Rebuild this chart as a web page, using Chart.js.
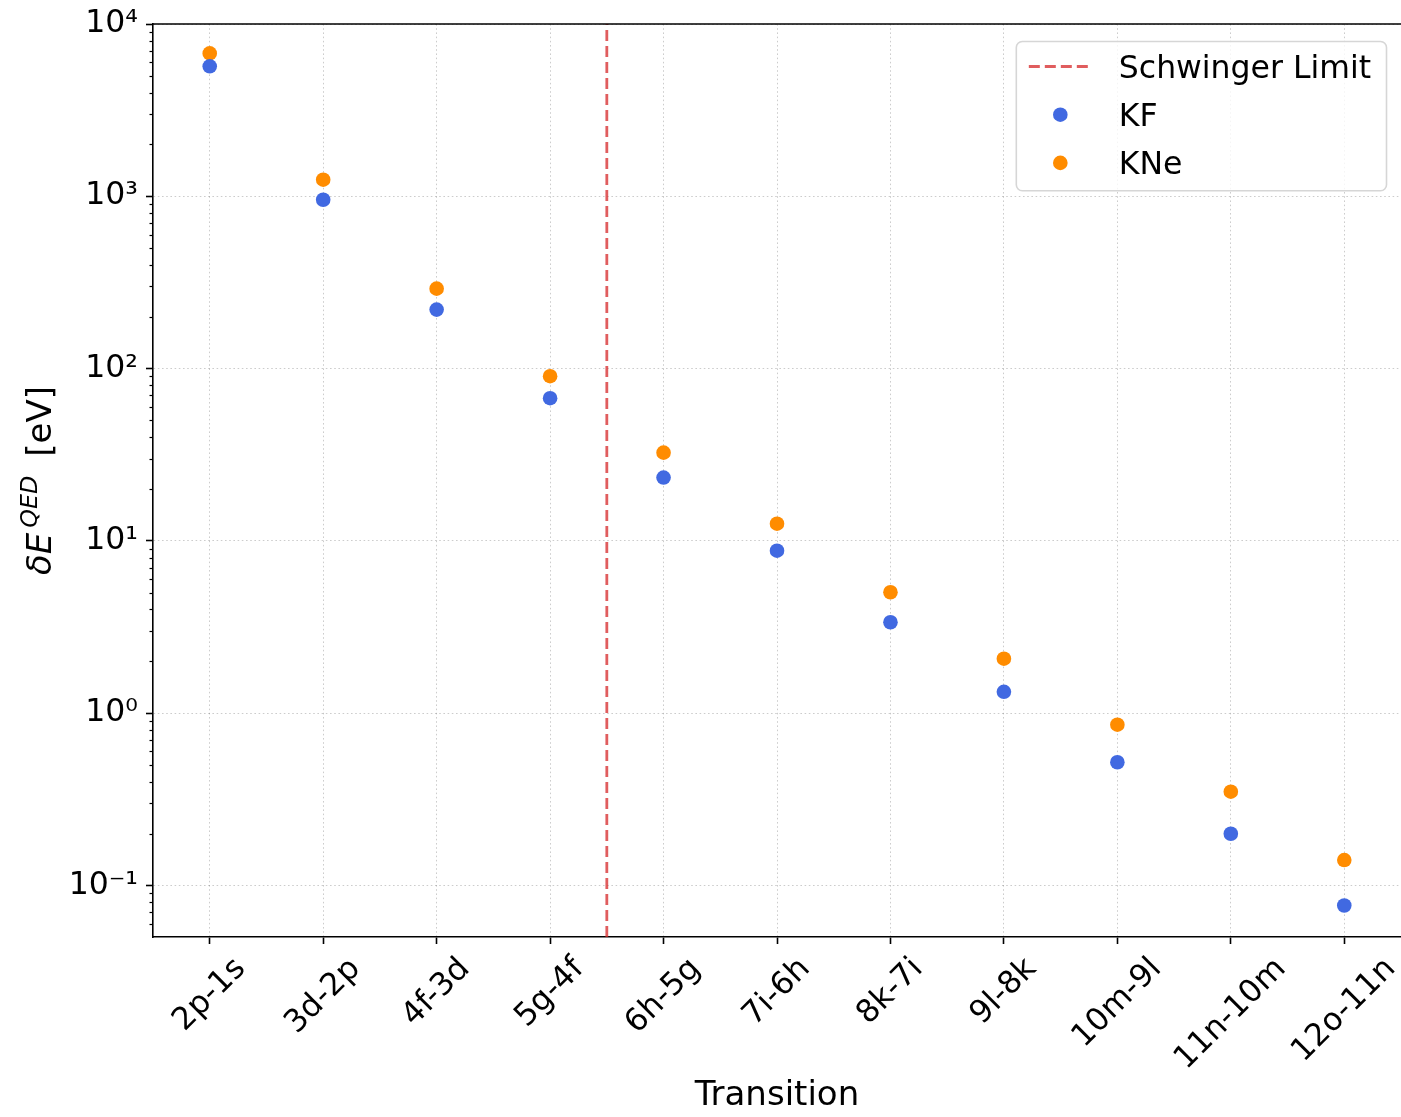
<!DOCTYPE html>
<html>
<head>
<meta charset="utf-8">
<script src="https://cdn.jsdelivr.net/npm/chart.js@4.4.1/dist/chart.umd.min.js"></script>
<style>
  html, body { margin: 0; padding: 0; background: #fff; }
  #chart { display: block; }
</style>
</head>
<body>
<canvas id="chart" width="1401" height="1117"></canvas>
<script>
// Dados (escala log)
const transitions = ['2p-1s', '3d-2p', '4f-3d', '5g-4f', '6h-5g', '7i-6h', '8k-7i', '9l-8k', '10m-9l', '11n-10m', '12o-11n'];
const kfValues = [5680, 955, 220, 67.3, 23.3, 8.77, 3.37, 1.33, 0.519, 0.1995, 0.0765];
const kneValues = [6750, 1248, 291, 90.3, 32.5, 12.58, 5.03, 2.07, 0.857, 0.350, 0.1404];
const schwingerX = 3.5;
const yMin = 0.0502;
const yMax = 10000;
const yMajorTicks = [0.1, 1, 10, 100, 1000, 10000];
const yMajorLabels = ['10\u207B\u00B9', '10\u2070', '10\u00B9', '10\u00B2', '10\u00B3', '10\u2074'];

const FONTE = "'DejaVu Sans'";
const TAM_TICK = 31.5;
const TAM_ROTULO = 34;

// Plugin para os elementos no estilo matplotlib
const decoracoes = {
    id: 'decoracoes',
    afterDraw(chart) {
        const ctx = chart.ctx;
        const area = chart.chartArea;
        const xs = chart.scales.x;
        const ys = chart.scales.y;
        ctx.save();

        // Borda superior
        ctx.strokeStyle = '#000';
        ctx.lineWidth = 1.6;
        ctx.beginPath();
        ctx.moveTo(area.left, area.top);
        ctx.lineTo(area.right, area.top);
        ctx.stroke();

        // Ticks menores do eixo y
        ctx.lineWidth = 1.2;
        ys.ticks.forEach(t => {
            if (t.major) return;
            const py = Math.round(ys.getPixelForValue(t.value)) + 0.5;
            ctx.beginPath();
            ctx.moveTo(area.left - 3.5, py);
            ctx.lineTo(area.left, py);
            ctx.stroke();
        });

        // Rótulos do eixo x, rotacionados 45 graus e centralizados
        ctx.fillStyle = '#000';
        ctx.font = TAM_TICK + 'px ' + FONTE;
        ctx.textAlign = 'center';
        ctx.textBaseline = 'middle';
        const h = TAM_TICK * 1.164;
        transitions.forEach((nome, i) => {
            const px = xs.getPixelForValue(i);
            const w = ctx.measureText(nome).width;
            const meia = (w + h) * Math.SQRT1_2 / 2;
            const cy = area.bottom + 14 + meia;
            ctx.save();
            ctx.translate(px, cy);
            ctx.rotate(-Math.PI / 4);
            ctx.fillText(nome, 0, 0);
            ctx.restore();
        });

        // Título do eixo y com sobrescrito
        ctx.save();
        ctx.translate(51, (area.top + area.bottom) / 2);
        ctx.rotate(-Math.PI / 2);
        ctx.textAlign = 'left';
        ctx.textBaseline = 'alphabetic';
        const fItal = 'italic ' + TAM_ROTULO + 'px ' + FONTE;
        const fSup = 'italic ' + (TAM_ROTULO * 0.7) + 'px ' + FONTE;
        const fNorm = TAM_ROTULO + 'px ' + FONTE;
        ctx.font = fItal; const w1 = ctx.measureText('\u03B4E').width;
        ctx.font = fSup; const w2 = ctx.measureText('QED').width;
        ctx.font = fNorm; const w3 = ctx.measureText(' [eV]').width;
        const total = w1 + 5 + w2 + 8 + w3;
        let x0 = -total / 2;
        ctx.font = fItal; ctx.fillText('\u03B4E', x0, 0); x0 += w1 + 5;
        ctx.font = fSup; ctx.fillText('QED', x0, -14); x0 += w2 + 8;
        ctx.font = fNorm; ctx.fillText(' [eV]', x0, 0);
        ctx.restore();

        // Legenda
        ctx.font = TAM_TICK + 'px ' + FONTE;
        const dsets = chart.data.datasets;
        const textoW = Math.max(...dsets.map(d => ctx.measureText(d.label).width));
        const boxW = 12.5 + 63 + 27 + textoW + 15.5;
        const boxH = 149.3;
        const right = area.right - 14.5;
        const left = right - boxW;
        const top = area.top + 17.5;
        ctx.beginPath();
        ctx.roundRect(left, top, boxW, boxH, 6);
        ctx.fillStyle = 'rgba(255,255,255,0.8)';
        ctx.fill();
        ctx.strokeStyle = '#d6d6d6';
        ctx.lineWidth = 1.6;
        ctx.stroke();
        dsets.forEach((d, i) => {
            const cy = top + 25 + i * 48.2;
            if (d.showLine) {
                ctx.save();
                ctx.strokeStyle = d.borderColor;
                ctx.lineWidth = d.borderWidth;
                ctx.setLineDash(d.borderDash);
                ctx.beginPath();
                ctx.moveTo(left + 12.5, cy);
                ctx.lineTo(left + 75.5, cy);
                ctx.stroke();
                ctx.restore();
            } else {
                ctx.beginPath();
                ctx.arc(left + 44, cy, d.pointRadius, 0, Math.PI * 2);
                ctx.fillStyle = d.pointBackgroundColor;
                ctx.fill();
            }
            ctx.fillStyle = '#000';
            ctx.textAlign = 'left';
            ctx.textBaseline = 'alphabetic';
            ctx.fillText(d.label, left + 102.5, cy + 0.3645 * TAM_TICK);
        });

        ctx.restore();
    }
};

function inicializarGrafico() {
    const ctx = document.getElementById('chart');
    new Chart(ctx, {
        type: 'scatter',
        data: {
            datasets: [
                {
                    label: 'Schwinger Limit',
                    data: [{ x: schwingerX, y: yMin }, { x: schwingerX, y: yMax }],
                    showLine: true,
                    borderColor: 'rgba(214, 39, 40, 0.75)',
                    borderWidth: 2.8,
                    borderDash: [11, 5],
                    pointRadius: 0,
                    pointHoverRadius: 0,
                    fill: false
                },
                {
                    label: 'KF',
                    data: transitions.map((t, i) => ({ x: i, y: kfValues[i] })),
                    pointRadius: 7.3,
                    pointHoverRadius: 7.3,
                    pointBackgroundColor: '#4169E1',
                    pointBorderWidth: 0,
                    backgroundColor: '#4169E1',
                    borderColor: '#4169E1'
                },
                {
                    label: 'KNe',
                    data: transitions.map((t, i) => ({ x: i, y: kneValues[i] })),
                    pointRadius: 7.3,
                    pointHoverRadius: 7.3,
                    pointBackgroundColor: '#FF8C00',
                    pointBorderWidth: 0,
                    backgroundColor: '#FF8C00',
                    borderColor: '#FF8C00'
                }
            ]
        },
        options: {
            responsive: false,
            animation: false,
            devicePixelRatio: 1,
            events: [],
            layout: {
                autoPadding: false,
                padding: { top: 24, right: 0, bottom: 0, left: 0 }
            },
            plugins: {
                legend: { display: false },
                tooltip: { enabled: false }
            },
            scales: {
                x: {
                    type: 'linear',
                    min: -0.5,
                    max: 10.5,
                    afterBuildTicks: (scale) => {
                        scale.ticks = transitions.map((t, i) => ({ value: i }));
                    },
                    afterFit: (scale) => {
                        scale.height = 180;
                        scale.paddingLeft = 0;
                        scale.paddingRight = 0;
                        scale.paddingTop = 0;
                        scale.paddingBottom = 0;
                    },
                    ticks: { display: false },
                    grid: {
                        color: 'rgba(0, 0, 0, 0.2)',
                        lineWidth: 1,
                        tickLength: 7,
                        tickColor: '#000',
                        tickWidth: 1.6
                    },
                    border: {
                        display: true,
                        color: '#000',
                        width: 1.6,
                        dash: [1.6, 2.6]
                    },
                    title: {
                        display: true,
                        text: 'Transition',
                        color: '#000',
                        font: { family: 'DejaVu Sans', size: TAM_ROTULO },
                        padding: { top: 0, bottom: 0 }
                    }
                },
                y: {
                    type: 'logarithmic',
                    min: yMin,
                    max: yMax,
                    afterBuildTicks: (scale) => {
                        const lista = [];
                        for (let e = -2; e <= 4; e++) {
                            for (let m = 1; m <= 9; m++) {
                                const v = m * Math.pow(10, e);
                                if (v >= yMin && v <= yMax * 1.0001) {
                                    lista.push({ value: v, major: m === 1 });
                                }
                            }
                        }
                        scale.ticks = lista;
                    },
                    afterFit: (scale) => {
                        scale.width = 153;
                        scale.paddingLeft = 0;
                        scale.paddingRight = 0;
                        scale.paddingTop = 0;
                        scale.paddingBottom = 0;
                    },
                    ticks: {
                        autoSkip: false,
                        padding: 8,
                        color: '#000',
                        font: { family: 'DejaVu Sans', size: TAM_TICK },
                        callback: function(value) {
                            const k = yMajorTicks.findIndex(t => Math.abs(Math.log10(t) - Math.log10(value)) < 1e-6);
                            return k >= 0 ? yMajorLabels[k] : '';
                        }
                    },
                    grid: {
                        color: (c) => (c.tick && c.tick.major ? 'rgba(0, 0, 0, 0.2)' : 'rgba(0,0,0,0)'),
                        tickColor: (c) => (c.tick && c.tick.major ? '#000' : 'rgba(0,0,0,0)'),
                        lineWidth: 1,
                        tickLength: 7,
                        tickWidth: 1.6
                    },
                    border: {
                        display: true,
                        color: '#000',
                        width: 1.6,
                        dash: [1.6, 2.6]
                    }
                }
            }
        },
        plugins: [decoracoes]
    });
}

inicializarGrafico();
</script>
</body>
</html>
